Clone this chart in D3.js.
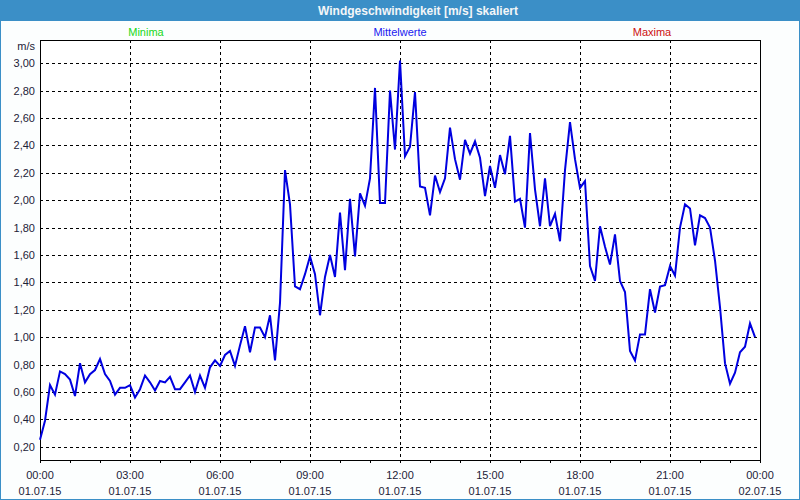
<!DOCTYPE html>
<html><head><meta charset="utf-8">
<script src="https://cdn.jsdelivr.net/npm/d3@7"></script>
<style>
html,body{margin:0;padding:0;background:#fff;}
svg{display:block;font-family:"Liberation Sans",Arial,sans-serif;}
</style></head><body>
<svg id="chart" width="800" height="500"></svg>
<script>
const title = "Windgeschwindigkeit [m/s] skaliert";
const legendLabels = ["Minima", "Mittelwerte", "Maxima"];
const legendColors = ["#18d818", "#2020f0", "#cc1010"];
const unitLabel = "m/s";
const xTickHours = [0, 3, 6, 9, 12, 15, 18, 21, 24];
const xTickTimes = ["00:00","03:00","06:00","09:00","12:00","15:00","18:00","21:00","00:00"];
const xTickDates = ["01.07.15","01.07.15","01.07.15","01.07.15","01.07.15","01.07.15","01.07.15","01.07.15","02.07.15"];
const yTicks = [0.2,0.4,0.6,0.8,1.0,1.2,1.4,1.6,1.8,2.0,2.2,2.4,2.6,2.8,3.0];
const stepMinutes = 10;
// mean wind speed, every 10 minutes from 00:00 to 23:50
const speeds = [
 0.25,0.39,0.65,0.58,0.75,0.73,0.69,0.57,0.81,0.67,
 0.73,0.76,0.84,0.73,0.68,0.58,0.63,0.63,0.65,0.56,
 0.62,0.72,0.67,0.61,0.68,0.67,0.71,0.62,0.62,0.67,
 0.72,0.60,0.72,0.63,0.78,0.83,0.79,0.87,0.90,0.79,
 0.94,1.08,0.89,1.07,1.07,1.00,1.16,0.83,1.25,2.22,
 1.97,1.37,1.35,1.46,1.59,1.46,1.16,1.44,1.60,1.44,
 1.91,1.49,2.01,1.59,2.05,1.96,2.16,2.82,1.98,1.98,
 2.80,2.37,3.02,2.32,2.39,2.79,2.10,2.09,1.89,2.18,
 2.06,2.16,2.53,2.30,2.15,2.44,2.34,2.43,2.31,2.03,
 2.25,2.09,2.33,2.19,2.47,1.99,2.01,1.80,2.49,2.08,
 1.81,2.16,1.81,1.90,1.70,2.22,2.57,2.30,2.09,2.14,
 1.52,1.41,1.81,1.66,1.53,1.75,1.41,1.33,0.90,0.83,
 1.02,1.02,1.35,1.18,1.37,1.38,1.52,1.45,1.80,1.97,
 1.94,1.67,1.89,1.87,1.80,1.56,1.22,0.81,0.66,0.74,
 0.89,0.93,1.10,1.00
];

const svg = d3.select("#chart");
const W = 800, H = 500;
const plot = {left: 40, right: 760, top: 40, bottom: 460};

// background & frame
svg.append("rect").attr("x",0).attr("y",0).attr("width",W).attr("height",H).attr("fill","#fcfefe");
svg.append("rect").attr("x",0).attr("y",0).attr("width",W).attr("height",21).attr("fill","#3b8fc7");
svg.append("rect").attr("x",0.5).attr("y",0.5).attr("width",W-1).attr("height",H-1)
  .attr("fill","none").attr("stroke","#3b8fc7").attr("stroke-width",1);
svg.append("text").attr("x",418).attr("y",15).attr("text-anchor","middle")
  .attr("fill","#f4f6f8").attr("font-weight","bold").attr("font-size","12px").text(title);

// legend
const legendX = [146, 400, 652];
legendLabels.forEach((t,i)=>{
  svg.append("text").attr("x",legendX[i]).attr("y",36).attr("text-anchor","middle")
    .attr("fill",legendColors[i]).attr("font-size","11px").text(t);
});

const x = d3.scaleLinear().domain([0,24]).range([plot.left, plot.right]);
const y = d3.scaleLinear().domain([0.103, 3.17]).range([plot.bottom, plot.top]);

svg.append("rect").attr("x",plot.left).attr("y",plot.top)
  .attr("width",plot.right-plot.left).attr("height",plot.bottom-plot.top).attr("fill","#ffffff");

// grid
const g = svg.append("g").attr("shape-rendering","crispEdges");
g.selectAll(".hg").data(yTicks).enter().append("line")
  .attr("x1",plot.left).attr("x2",plot.right)
  .attr("y1",d=>Math.round(y(d))+0.5).attr("y2",d=>Math.round(y(d))+0.5)
  .attr("stroke","#000").attr("stroke-dasharray","3,3");
g.selectAll(".vg").data(xTickHours.slice(1,-1)).enter().append("line")
  .attr("y1",plot.top).attr("y2",plot.bottom)
  .attr("x1",d=>Math.round(x(d))+0.5).attr("x2",d=>Math.round(x(d))+0.5)
  .attr("stroke","#000").attr("stroke-dasharray","3,3");

// x axis: hourly minor ticks
const xAxis = d3.axisBottom(x).tickValues(d3.range(0,25,1)).tickSize(3).tickFormat("");
const ax = svg.append("g").attr("transform",`translate(0,${plot.bottom})`).call(xAxis);
ax.select(".domain").remove();
ax.selectAll("line").attr("stroke","#000");

// y axis labels
const yAxis = d3.axisLeft(y).tickValues(yTicks).tickSize(0).tickPadding(5)
  .tickFormat(d=>d3.format(".2f")(d).replace(".",","));
const ay = svg.append("g").attr("transform",`translate(${plot.left},0)`).call(yAxis);
ay.select(".domain").remove();
ay.selectAll("text").attr("fill","#1c2238").attr("font-size","11px")
  .attr("font-family","Liberation Sans, Arial, sans-serif");
svg.append("text").attr("x",35).attr("y",50).attr("text-anchor","end")
  .attr("fill","#1c2238").attr("font-size","11px").text(unitLabel);

// x labels
xTickHours.forEach((h,i)=>{
  svg.append("text").attr("x",x(h)).attr("y",479).attr("text-anchor","middle")
    .attr("fill","#1c2238").attr("font-size","11px").text(xTickTimes[i]);
  svg.append("text").attr("x",x(h)).attr("y",495).attr("text-anchor","middle")
    .attr("fill","#1c2238").attr("font-size","11px").text(xTickDates[i]);
});

// frame
svg.append("rect").attr("x",plot.left+0.5).attr("y",plot.top+0.5)
  .attr("width",plot.right-plot.left).attr("height",plot.bottom-plot.top)
  .attr("fill","none").attr("stroke","#000").attr("shape-rendering","crispEdges");

// line
const line = d3.line().x((d,i)=>x(i*stepMinutes/60)).y(d=>y(d));
svg.append("path").datum(speeds).attr("d",line).attr("fill","none")
  .attr("stroke","#0000e0").attr("stroke-width",2).attr("stroke-linejoin","miter");
</script>
</body></html>
